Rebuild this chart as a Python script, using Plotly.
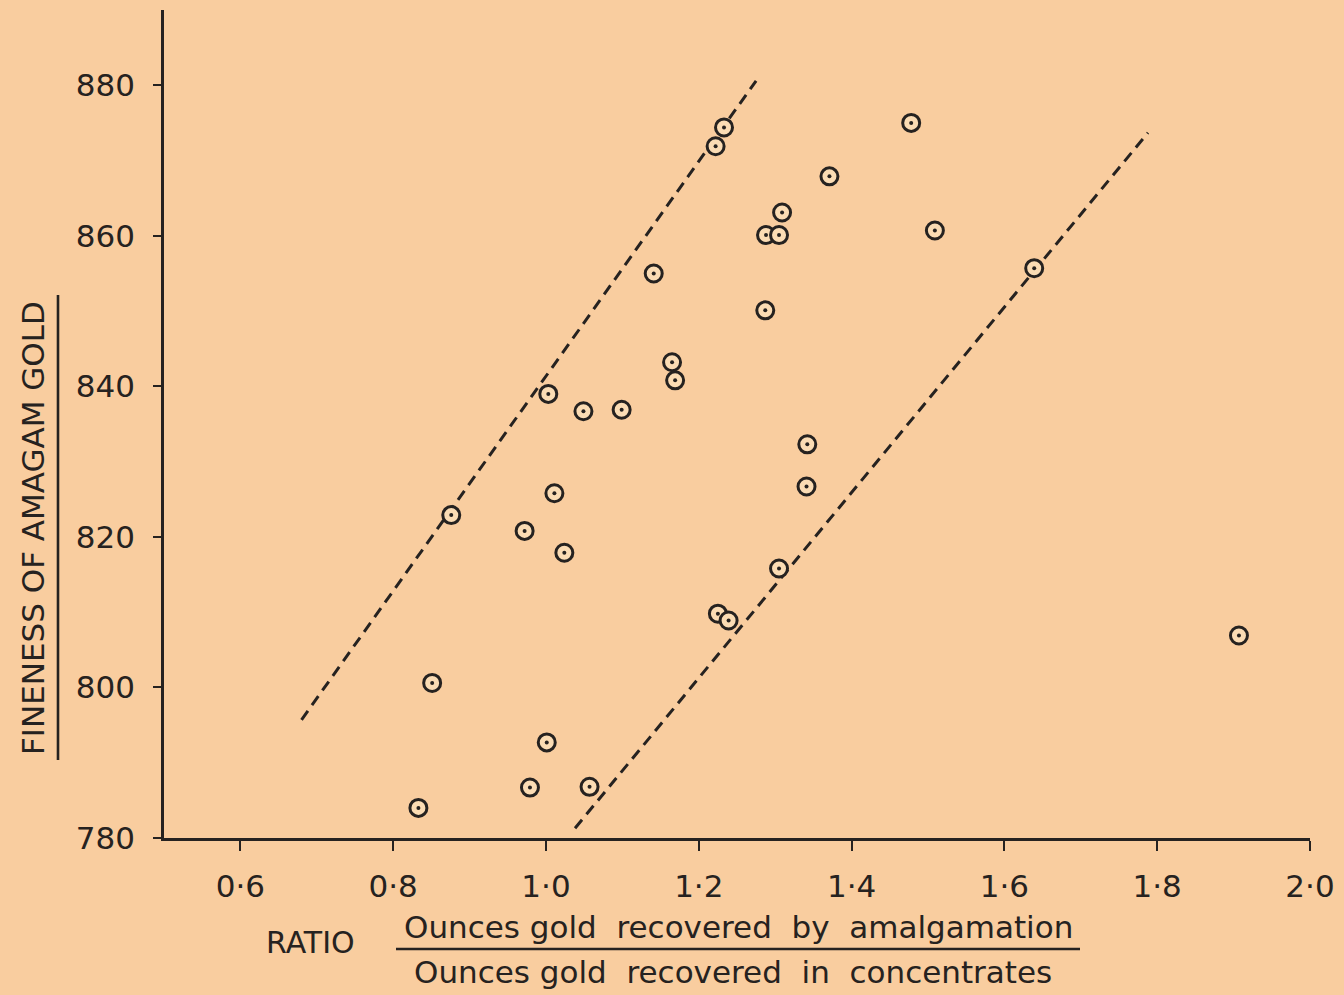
import plotly.graph_objects as go

# Ratio of gold recovered by amalgamation to gold recovered in concentrates
ratio = [1.233, 1.222, 1.478, 1.371, 1.309, 1.288, 1.305, 1.509, 1.141, 1.639,
         1.287, 1.165, 1.169, 1.003, 1.049, 1.099, 1.342, 1.341, 1.011, 0.876,
         0.972, 1.024, 1.305, 1.225, 1.239, 1.907, 0.851, 1.001, 0.979, 1.057,
         0.833]
# Fineness of the amalgam gold
fineness = [874.4, 871.9, 875.0, 867.9, 863.1, 860.1, 860.1, 860.7, 855.0, 855.7,
            850.1, 843.2, 840.8, 839.0, 836.7, 836.9, 832.3, 826.7, 825.8, 822.9,
            820.8, 817.9, 815.8, 809.8, 808.9, 806.9, 800.6, 792.7, 786.7, 786.8,
            784.0]

# Dashed boundary lines (end points)
upper_x = [0.680, 1.275]
upper_y = [795.7, 880.6]
lower_x = [1.038, 1.788]
lower_y = [781.3, 873.7]

x_ticks = [0.6, 0.8, 1.0, 1.2, 1.4, 1.6, 1.8, 2.0]
x_tick_text = ["0·6", "0·8", "1·0", "1·2", "1·4", "1·6", "1·8", "2·0"]
y_ticks = [780, 800, 820, 840, 860, 880]

BG = "#F9CD9F"
INK = "#262220"
FONT = "DejaVu Sans"

fig = go.Figure()

for lx, ly in ((upper_x, upper_y), (lower_x, lower_y)):
    fig.add_trace(go.Scatter(
        x=lx, y=ly, mode="lines",
        line=dict(color=INK, width=3, dash="11px,7px"),
        hoverinfo="skip", showlegend=False,
    ))

# Ringed points: open ring plus a centre dot
fig.add_trace(go.Scatter(
    x=ratio, y=fineness, mode="markers",
    marker=dict(symbol="circle", size=17, color="#FBDCB4",
                line=dict(color=INK, width=3)),
    showlegend=False,
))
fig.add_trace(go.Scatter(
    x=ratio, y=fineness, mode="markers",
    marker=dict(symbol="circle", size=4, color=INK, line=dict(width=0)),
    hoverinfo="skip", showlegend=False,
))

axis_common = dict(
    showline=True, linecolor=INK, linewidth=2.6, mirror=False,
    ticks="outside", tickcolor=INK, tickwidth=2.2,
    showgrid=False, zeroline=False,
    tickfont=dict(family=FONT, size=31, color=INK),
)

fig.update_xaxes(range=[0.5, 2.0], tickvals=x_ticks, ticktext=x_tick_text,
                 ticklen=10, ticklabelstandoff=9, **axis_common)
fig.update_yaxes(range=[780, 890], tickvals=y_ticks, ticklen=8,
                 ticklabelstandoff=12, **axis_common)

W, H = 1344, 995
L, R, T, B = 164, 34, 10, 157
pw, ph = W - L - R, H - T - B


def px_x(p):
    return (p - L) / pw


def px_y(p):
    return (H - B - p) / ph


annotations = [
    dict(text="FINENESS OF AMAGAM GOLD", textangle=-90,
         x=px_x(33), y=px_y(528), xanchor="center", yanchor="middle",
         font=dict(family=FONT, size=31, color=INK)),
    dict(text="RATIO", x=px_x(310), y=px_y(942), xanchor="center", yanchor="middle",
         font=dict(family=FONT, size=30, color=INK)),
    dict(text="Ounces gold  recovered  by  amalgamation",
         x=px_x(738), y=px_y(927), xanchor="center", yanchor="middle",
         font=dict(family=FONT, size=31, color=INK)),
    dict(text="Ounces gold  recovered  in  concentrates",
         x=px_x(733), y=px_y(972), xanchor="center", yanchor="middle",
         font=dict(family=FONT, size=31, color=INK)),
]
for a in annotations:
    a.update(xref="paper", yref="paper", showarrow=False)

shapes = [
    dict(type="line", xref="paper", yref="paper",
         x0=px_x(58), x1=px_x(58), y0=px_y(295), y1=px_y(760),
         line=dict(color=INK, width=2.6)),
    dict(type="line", xref="paper", yref="paper",
         x0=px_x(396), x1=px_x(1080), y0=px_y(949), y1=px_y(949),
         line=dict(color=INK, width=2.4)),
]

fig.update_layout(
    width=W, height=H,
    margin=dict(l=L, r=R, t=T, b=B, pad=0),
    paper_bgcolor=BG, plot_bgcolor=BG,
    annotations=annotations, shapes=shapes,
    showlegend=False,
)

fig.write_html("out.html")
